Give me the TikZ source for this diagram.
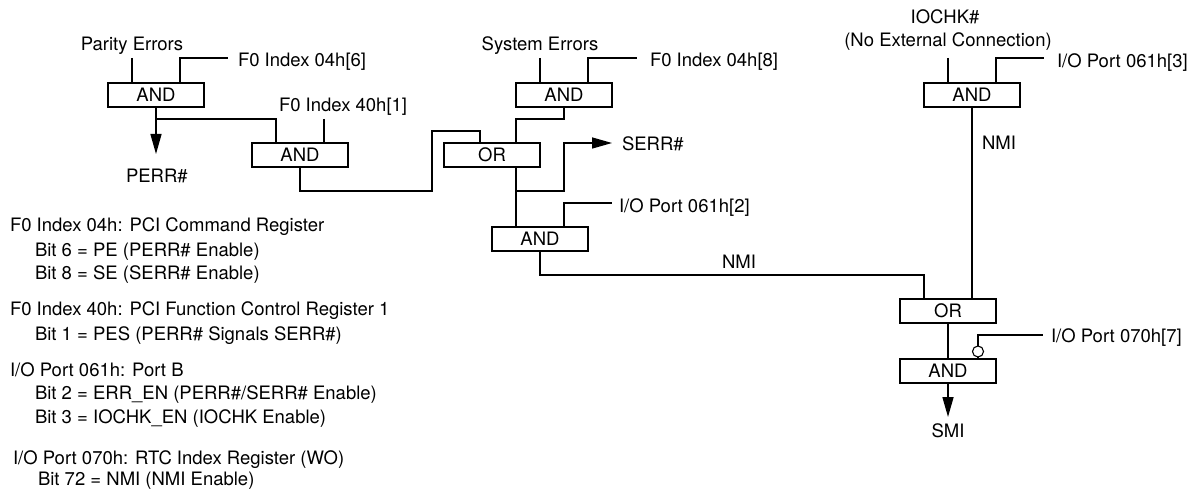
\documentclass[tikz,border=0pt]{standalone}
\usepackage{fontspec}
\setmainfont{TeX Gyre Heros}
\usetikzlibrary{arrows.meta,calc}
\tikzset{
  gate/.style={draw,line width=1.5pt,minimum width=96pt,minimum height=24pt,inner sep=0pt,outer sep=0pt,font=\fontsize{18.5}{20}\selectfont},
  lbl/.style={anchor=base west,inner sep=0pt,outer sep=0pt,font=\fontsize{18.5}{20}\selectfont},
  lblc/.style={anchor=base,inner sep=0pt,outer sep=0pt,font=\fontsize{18.5}{20}\selectfont},
  wire/.style={line width=1.5pt,line join=miter},
  sig/.style={wire,-{Triangle[length=20pt,width=11pt]}},
  bubble/.style={draw,circle,line width=1.1pt,minimum size=11pt,inner sep=0pt,outer sep=0pt}
}
\begin{document}
\begin{tikzpicture}[x=1pt,y=-1pt]
\useasboundingbox (0,0) rectangle (1191,489);
% gates
\node[gate] (and1) at (156,95) {AND};
\node[gate] (and2) at (300,155) {AND};
\node[gate] (or1) at (492,155) {OR};
\node[gate] (and3) at (564,95) {AND};
\node[gate] (and4) at (540,239) {AND};
\node[gate] (and5) at (972,95) {AND};
\node[gate] (or2) at (948,311) {OR};
\node[gate] (and6) at (948,371) {AND};
\node[bubble] (inv) at (978,351.5) {};
% labels
\node[lblc] (parity) at (132,51) {Parity Errors};
\node[lbl] (f046) at (238,67) {F0 Index 04h[6]};
\node[lbl] (f401) at (279,112) {F0 Index 40h[1]};
\node[lbl] (perr) at (126,183) {PERR\#};
\node[lblc] (syserr) at (540,51) {System Errors};
\node[lbl] (f048) at (650,67) {F0 Index 04h[8]};
\node[lbl] (serr) at (622,151) {SERR\#};
\node[lbl] (io612) at (619,212) {I/O Port 061h[2]};
\node[lbl] (nmia) at (722,268) {NMI};
\node[lblc] (iochk) at (945,24) {IOCHK\#};
\node[lblc] (noext) at (948,47) {(No External Connection)};
\node[lbl] (io613) at (1057,68) {I/O Port 061h[3]};
\node[lbl] (nmib) at (982,150) {NMI};
\node[lbl] (io707) at (1051,342) {I/O Port 070h[7]};
\node[lblc] (smi) at (948,437) {SMI};
% legend
\node[lbl] (t1) at (10,232) {F0 Index 04h: PCI Command Register};
\node[lbl] (t2) at (35,256) {Bit 6 = PE (PERR\# Enable)};
\node[lbl] (t3) at (35,279) {Bit 8 = SE (SERR\# Enable)};
\node[lbl] (t4) at (10,315) {F0 Index 40h: PCI Function Control Register 1};
\node[lbl] (t5) at (35,340) {Bit 1 = PES (PERR\# Signals SERR\#)};
\node[lbl] (t6) at (10,376) {I/O Port 061h: Port B};
\node[lbl] (t7) at (35,399) {Bit 2 = ERR\_EN (PERR\#/SERR\# Enable)};
\node[lbl] (t8) at (35,423) {Bit 3 = IOCHK\_EN (IOCHK Enable)};
\node[lbl] (t9) at (13,464) {I/O Port 070h: RTC Index Register (WO)};
\node[lbl] (t10) at (38,485) {Bit 72 = NMI (NMI Enable)};
% free ends
\coordinate (e1) at (132,58);
\coordinate (e2) at (228,58);
\coordinate (e3) at (324,119);
\coordinate (e4) at (540,58);
\coordinate (e5) at (637,58);
\coordinate (e6) at (612,203);
\coordinate (e7) at (948,58);
\coordinate (e8) at (1044,58);
\coordinate (e9) at (1043,335);
% wires
\draw[wire] (e1) -- ([xshift=-24pt]and1.north);
\draw[wire] ([xshift=24pt]and1.north) |- (e2);
\draw[sig] (and1.south) -- (156,154);
\draw[wire] (156,119) -| ([xshift=-24pt]and2.north);
\draw[wire] (e3) -- ([xshift=24pt]and2.north);
\draw[wire] (and2.south) |- (432,191) |- (480,131) -- ([xshift=-12pt]or1.north);
\draw[wire] (and3.south) -- ++(0,12) -| ([xshift=24pt]or1.north);
\draw[wire] (e4) -- ([xshift=-24pt]and3.north);
\draw[wire] ([xshift=24pt]and3.north) |- (e5);
\draw[wire] ([xshift=24pt]or1.south) -- ([xshift=-24pt]and4.north);
\draw[sig] (516,191) -| (564,143) -- (612,143);
\draw[wire] ([xshift=24pt]and4.north) |- (e6);
\draw[wire] (and4.south) |- (924,275) -- ([xshift=-24pt]or2.north);
\draw[wire] (e7) -- ([xshift=-24pt]and5.north);
\draw[wire] ([xshift=24pt]and5.north) |- (e8);
\draw[wire] (and5.south) -- ([xshift=24pt]or2.north);
\draw[wire] (or2.south) -- (and6.north);
\draw[wire] (inv.north) |- (e9);
\draw[wire] (inv.south) -- (inv.south |- and6.north);
\draw[sig] (and6.south) -- (948,417);
\end{tikzpicture}
\end{document}
